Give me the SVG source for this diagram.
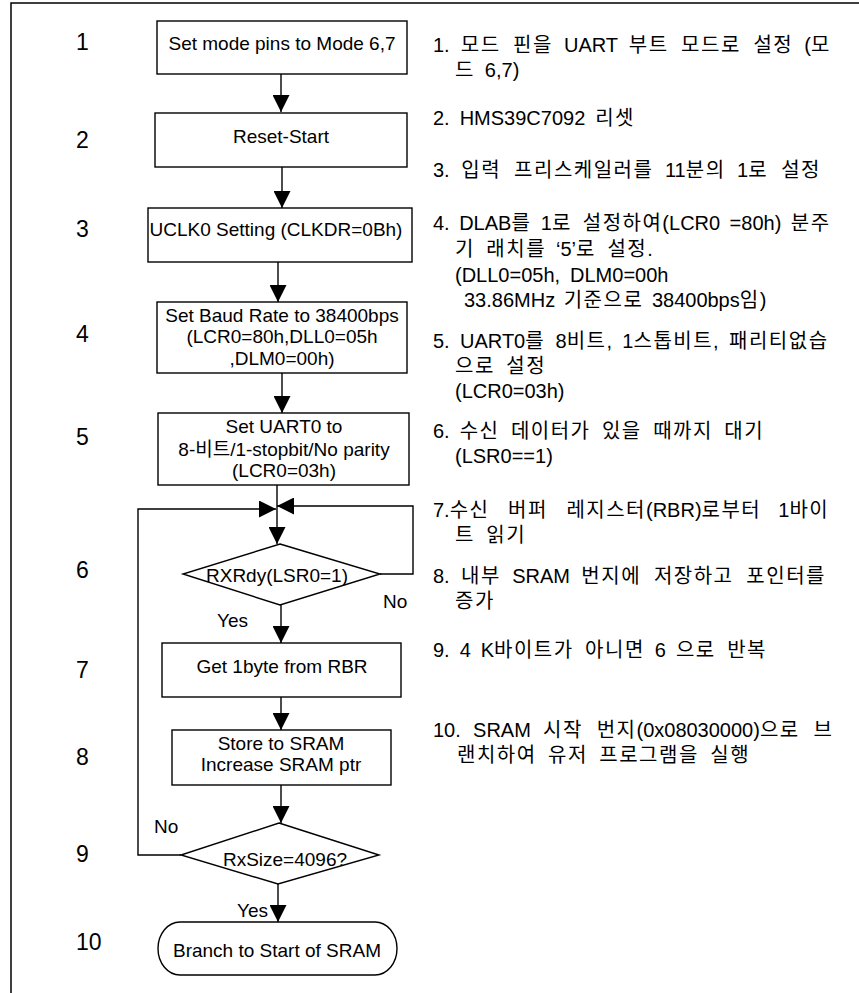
<svg xmlns="http://www.w3.org/2000/svg" width="859" height="993" viewBox="0 0 859 993">
  <style>
    .box { fill: #fff; stroke: #000; stroke-width: 1.4; }
    .wire { fill: none; stroke: #000; stroke-width: 1.4; }
    text { font-family: "Liberation Sans", "Noto Sans CJK KR", Arial, sans-serif; fill: #000; }
    .t { font-size: 19px; text-anchor: middle; }
    .lbl { font-size: 23px; }
    .yn { font-size: 19px; }
    .desc text { font-size: 20px; word-spacing: 4.4px; }
    .k { letter-spacing: 1.5px; }
  </style>
  <defs>
    <marker id="arrow" markerUnits="userSpaceOnUse" markerWidth="17" markerHeight="17" refX="17" refY="8.5" orient="auto">
      <path d="M0,0 L17,8.5 L0,17 Z" fill="#000"/>
    </marker>
  </defs>

  <rect width="859" height="993" fill="#fff"/>
  <!-- outer frame -->
  <path d="M11,993 V3 H859" fill="none" stroke="#000" stroke-width="1.5"/>

  <!-- step numbers -->
  <g id="step-numbers" class="lbl">
    <text x="76" y="50">1</text>
    <text x="76" y="148">2</text>
    <text x="76" y="237">3</text>
    <text x="76" y="342">4</text>
    <text x="76" y="445">5</text>
    <text x="76" y="578">6</text>
    <text x="76" y="678">7</text>
    <text x="76" y="765">8</text>
    <text x="76" y="862">9</text>
    <text x="76" y="950">10</text>
  </g>

  <!-- connectors -->
  <g id="connectors" class="wire">
    <path d="M281,74 V112" marker-end="url(#arrow)"/>
    <path d="M282,167 V208" marker-end="url(#arrow)"/>
    <path d="M278,262 V302" marker-end="url(#arrow)"/>
    <path d="M282,373 V413" marker-end="url(#arrow)"/>
    <path d="M277,485 V544" marker-end="url(#arrow)"/>
    <path d="M380,574 H413 V506 H277" marker-end="url(#arrow)"/>
    <path d="M181,855 H138 V509 H276" marker-end="url(#arrow)"/>
    <path d="M281,605 V643" marker-end="url(#arrow)"/>
    <path d="M281,697 V730" marker-end="url(#arrow)"/>
    <path d="M281,785 V823" marker-end="url(#arrow)"/>
    <path d="M278,884 V922" marker-end="url(#arrow)"/>
  </g>

  <!-- flow nodes -->
  <g id="n1">
    <rect class="box" x="157" y="21" width="250" height="53"/>
    <text class="t" x="282" y="50">Set mode pins to Mode 6,7</text>
  </g>
  <g id="n2">
    <rect class="box" x="155" y="113" width="252" height="54"/>
    <text class="t" x="281" y="143">Reset-Start</text>
  </g>
  <g id="n3">
    <rect class="box" x="148" y="208" width="264" height="54"/>
    <text class="t" x="276" y="236">UCLK0 Setting (CLKDR=0Bh)</text>
  </g>
  <g id="n4">
    <rect class="box" x="157" y="302" width="250" height="71"/>
    <text class="t" x="282" y="322">Set Baud Rate to 38400bps</text>
    <text class="t" x="282" y="343">(LCR0=80h,DLL0=05h</text>
    <text class="t" x="282" y="365">,DLM0=00h)</text>
  </g>
  <g id="n5">
    <rect class="box" x="158" y="413" width="251" height="72"/>
    <text class="t" x="284" y="433">Set UART0 to</text>
    <text class="t" x="284" y="456">8-비트/1-stopbit/No parity</text>
    <text class="t" x="284" y="477">(LCR0=03h)</text>
  </g>
  <g id="n6">
    <polygon class="box" points="280,544 380,574 280,605 183,574"/>
    <text class="t" x="277" y="582">RXRdy(LSR0=1)</text>
    <text class="yn" x="383" y="608">No</text>
    <text class="yn" x="217" y="627">Yes</text>
  </g>
  <g id="n7">
    <rect class="box" x="162" y="643" width="239" height="54"/>
    <text class="t" x="282" y="673">Get 1byte from RBR</text>
  </g>
  <g id="n8">
    <rect class="box" x="172" y="730" width="219" height="55"/>
    <text class="t" x="281" y="750">Store to SRAM</text>
    <text class="t" x="281" y="771">Increase SRAM ptr</text>
  </g>
  <g id="n9">
    <polygon class="box" points="279,823 379,855 278,884 181,855"/>
    <text class="t" x="285" y="866">RxSize=4096?</text>
    <text class="yn" x="154" y="833">No</text>
    <text class="yn" x="237" y="917">Yes</text>
  </g>
  <g id="n10">
    <rect class="box" x="158" y="922" width="239" height="53" rx="22" ry="26.5"/>
    <text class="t" x="277" y="957">Branch to Start of SRAM</text>
  </g>

  <!-- step descriptions -->
  <g id="descriptions" class="desc">
    <text x="433" y="52" style="word-spacing:5.5px">1. <tspan class="k">모드 핀을</tspan> UART <tspan class="k">부트 모드로 설정</tspan> (<tspan class="k">모</tspan></text>
    <text x="455" y="77"><tspan class="k">드</tspan> 6,7)</text>
    <text x="433" y="125">2. HMS39C7092 <tspan class="k">리셋</tspan></text>
    <text x="433" y="177" style="word-spacing:6px">3. <tspan class="k">입력 프리스케일러를</tspan> 11<tspan class="k">분의</tspan> 1<tspan class="k">로 설정</tspan></text>
    <text x="433" y="230" style="word-spacing:3.9px">4. DLAB<tspan class="k">를</tspan> 1<tspan class="k">로 설정하여</tspan>(LCR0 =80h) <tspan class="k">분주</tspan></text>
    <text x="455" y="256"><tspan class="k">기 래치를</tspan> ‘5’<tspan class="k">로 설정</tspan>.</text>
    <text x="455" y="282">(DLL0=05h, DLM0=00h</text>
    <text x="464" y="307" style="word-spacing:3px">33.86MHz <tspan class="k">기준으로</tspan> 38400bps<tspan class="k">임</tspan>)</text>
    <text x="433" y="348" style="word-spacing:4.8px">5. UART0<tspan class="k">를</tspan> 8<tspan class="k">비트</tspan>, 1<tspan class="k">스톱비트</tspan>, <tspan class="k">패리티없습</tspan></text>
    <text x="455" y="373"><tspan class="k">으로 설정</tspan></text>
    <text x="455" y="398">(LCR0=03h)</text>
    <text x="433" y="438">6. <tspan class="k">수신 데이터가 있을 때까지 대기</tspan></text>
    <text x="455" y="463">(LSR0==1)</text>
    <text x="433" y="517" style="word-spacing:11.5px">7.<tspan class="k">수신 버퍼 레지스터</tspan>(RBR)<tspan class="k">로부터</tspan> 1<tspan class="k">바이</tspan></text>
    <text x="455" y="542"><tspan class="k">트 읽기</tspan></text>
    <text x="433" y="583" style="word-spacing:5.8px">8. <tspan class="k">내부</tspan> SRAM <tspan class="k">번지에 저장하고 포인터를</tspan></text>
    <text x="455" y="608"><tspan class="k">증가</tspan></text>
    <text x="433" y="657">9. 4 K<tspan class="k">바이트가 아니면</tspan> 6 <tspan class="k">으로 반복</tspan></text>
    <text x="433" y="737" style="word-spacing:6.7px">10. SRAM <tspan class="k">시작 번지</tspan>(0x08030000)<tspan class="k">으로 브</tspan></text>
    <text x="457" y="762"><tspan class="k">랜치하여 유저 프로그램을 실행</tspan></text>
  </g>
</svg>
